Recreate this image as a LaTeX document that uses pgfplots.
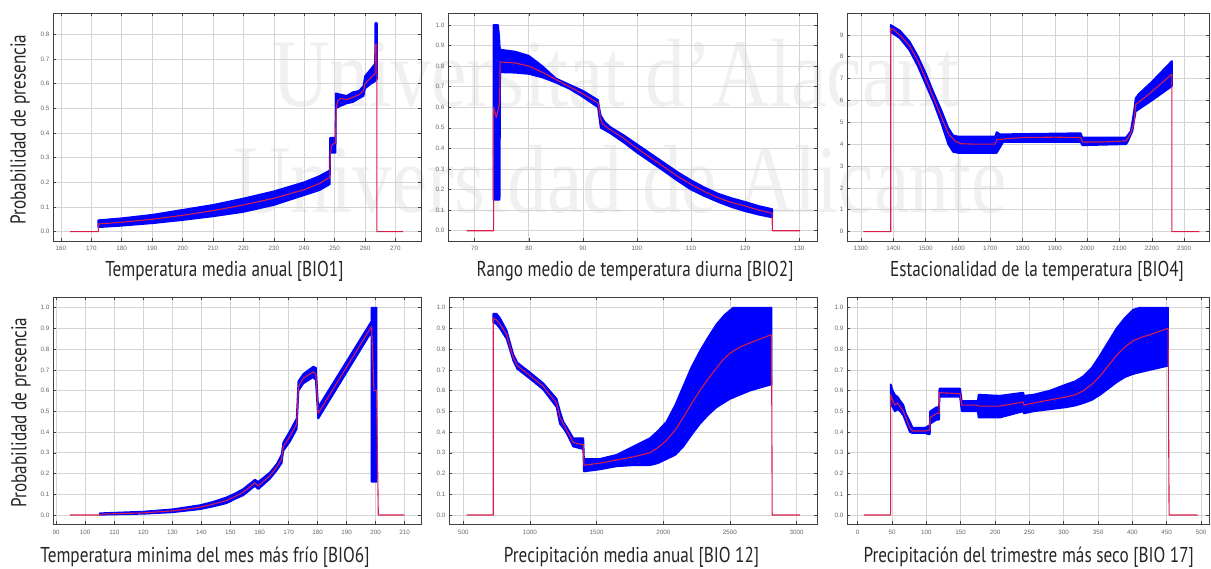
\documentclass[border=0pt]{standalone}
\usepackage{fontspec}
\usepackage{pgfplots}
\pgfplotsset{compat=1.18}
\setmainfont{Liberation Sans}
\newfontfamily\labfont{PT Sans}[FakeStretch=0.8]
\newfontfamily\tickfont{Liberation Sans}
\newfontfamily\wmfont{Liberation Serif}[FakeStretch=0.82]
\definecolor{meanred}{RGB}{215,30,75}
\definecolor{bandblue}{RGB}{0,0,255}
\pgfplotsset{
  base/.style={
    scale only axis,
    grid=major,
    major grid style={draw=black!17, line width=0.6pt},
    axis line style={draw=black!75, line width=0.8pt},
    tick style={draw=black!75, line width=0.5pt},
    tick align=inside,
    major tick length=3pt,
    tick pos=both,
    ticklabel style={font=\tickfont\fontsize{6.3}{7}\selectfont, text=black!60},
    xticklabel style={yshift=-2pt},
    /pgf/number format/assume math mode=true,
    /pgf/number format/1000 sep={},
    label style={font=\labfont\fontsize{21.5}{24}\selectfont, text=black!85},
    xlabel style={anchor=center},
    ylabel style={anchor=center},
  },
  band/.style={fill=bandblue, draw=bandblue, line width=1.8pt, line join=round},
  mean/.style={draw=meanred, line width=1.1pt, line join=round},
  ytenth/.style={ytick={0,0.1,0.2,0.3,0.4,0.5,0.6,0.7,0.8,0.9,1.0},
    yticklabel style={/pgf/number format/.cd, fixed, fixed zerofill, precision=1}},
}
\begin{document}
\begin{tikzpicture}
\useasboundingbox (0pt,0pt) rectangle (1211pt,569pt);
% watermark
\node[anchor=base, font=\wmfont\fontsize{97}{97}\selectfont, text=black!6, inner sep=0] at (616pt,462pt) {Universitat d’Alacant};
\node[anchor=base, font=\wmfont\fontsize{97}{97}\selectfont, text=black!6, inner sep=0] at (620pt,356pt) {Universidad de Alicante};

% ---------- Panel 1 ----------
\begin{axis}[base, at={(53pt,328pt)}, anchor=south west, width=368pt, height=228pt,
  xmin=157.4, xmax=278.4, ymin=-0.038, ymax=0.886,
  xtick={160,170,180,190,200,210,220,230,240,250,260,270},
  ytick={0,0.1,0.2,0.3,0.4,0.5,0.6,0.7,0.8},
  yticklabel style={/pgf/number format/.cd, fixed, fixed zerofill, precision=1},
  xlabel={Temperatura media anual [BIO1]},
  xlabel style={at={(axis description cs:0.466,-0.132)}},
  ylabel={Probabilidad de presencia},
  ylabel style={at={(axis description cs:-0.089,0.489)}},
]
\addplot[band] coordinates {(172.3,0.046)(180,0.054)(190,0.068)(200,0.088)(210,0.108)(220,0.134)(230,0.163)(240,0.2)(245,0.225)(248.4,0.248)(248.5,0.38)(250.3,0.38)(250.4,0.56)(252,0.555)(254,0.55)(256,0.565)(258,0.57)(259.5,0.59)(260,0.63)(262,0.66)(263.3,0.68)(263.4,0.845)(263.9,0.845)
 (263.9,0.62)(263.3,0.61)(262,0.6)(260,0.58)(259.5,0.55)(258,0.54)(256,0.525)(254,0.52)(252,0.51)(250.4,0.5)(250.3,0.32)(248.5,0.32)(248.4,0.192)(245,0.168)(240,0.148)(230,0.108)(220,0.08)(210,0.062)(200,0.047)(190,0.034)(180,0.024)(172.3,0.018)} -- cycle;
\addplot[mean] coordinates {(163,0)(172.3,0)(172.3,0.031)(180,0.038)(190,0.05)(200,0.066)(210,0.085)(220,0.108)(230,0.135)(240,0.17)(245,0.195)(248.4,0.22)(248.5,0.3)(249,0.35)(250.3,0.36)(250.5,0.5)(251,0.53)(252,0.54)(254,0.535)(256,0.545)(258,0.555)(259.5,0.57)(260,0.6)(262,0.625)(263.3,0.64)(263.4,0.76)(263.9,0.76)(263.9,0)(272.5,0)};
\end{axis}

% ---------- Panel 2 ----------
\begin{axis}[base, ytenth, at={(448pt,328pt)}, anchor=south west, width=369pt, height=228pt,
  xmin=65.06, xmax=133.3, ymin=-0.05, ymax=1.058,
  xtick={70,80,90,100,110,120,130},
  xlabel={Rango medio de temperatura diurna [BIO2]},
  xlabel style={at={(axis description cs:0.507,-0.132)}},
]
\addplot[band] coordinates {(73.5,1.0)(74.3,1.0)(74.5,0.95)(74.6,0.9)(74.7,0.88)(77.5,0.87)(80,0.85)(82.5,0.8)(85,0.74)(87.5,0.71)(90,0.68)(92.8,0.635)(93.0,0.6)(93.3,0.56)(94,0.53)(95,0.505)(97.5,0.465)(100,0.42)(102.5,0.375)(105,0.33)(107.5,0.285)(110,0.245)(112.5,0.21)(115,0.18)(117.5,0.158)(120,0.14)(122.5,0.12)(125,0.105)
 (125,0.065)(122.5,0.078)(120,0.095)(117.5,0.115)(115,0.14)(112.5,0.168)(110,0.2)(107.5,0.243)(105,0.29)(102.5,0.335)(100,0.38)(97.5,0.43)(95,0.475)(94,0.49)(93.3,0.5)(93,0.56)(92.8,0.6)(90,0.65)(87.5,0.69)(85,0.72)(82.5,0.745)(80,0.762)(77.5,0.768)(74.7,0.77)(74.6,0.15)(73.5,0.15)} -- cycle;
\addplot[mean] coordinates {(68.5,0)(73.5,0)(73.5,0.6)(74.0,0.55)(74.6,0.62)(74.7,0.82)(77.5,0.815)(80,0.80)(82.5,0.77)(85,0.735)(87.5,0.7)(90,0.665)(92.8,0.62)(93.0,0.6)(93.2,0.55)(93.6,0.52)(94.5,0.5)(97.5,0.45)(100,0.40)(102.5,0.355)(105,0.31)(107.5,0.265)(110,0.225)(112.5,0.19)(115,0.16)(117.5,0.137)(120,0.12)(122.5,0.1)(125,0.085)(125.05,0)(130.2,0)};
\end{axis}

% ---------- Panel 3 ----------
\begin{axis}[base, at={(847pt,328pt)}, anchor=south west, width=362pt, height=228pt,
  xmin=1256.7, xmax=2377, ymin=-0.43, ymax=10.0,
  xtick={1300,1400,1500,1600,1700,1800,1900,2000,2100,2200,2300},
  ytick={0,1,2,3,4,5,6,7,8,9},
  xlabel={Estacionalidad de la temperatura [BIO4]},
  xlabel style={at={(axis description cs:0.525,-0.132)}},
]
\addplot[band] coordinates {(1392,9.45)(1420,9.2)(1450,8.7)(1475,8.05)(1500,7.25)(1525,6.35)(1550,5.5)(1570,4.75)(1585,4.4)(1600,4.35)(1715,4.35)(1720,4.55)(1730,4.45)(1980,4.5)(1985,4.3)(2120,4.3)(2135,4.6)(2145,5.5)(2150,6.1)(2160,6.3)(2200,6.85)(2262,7.8)
 (2262,6.65)(2200,6.0)(2160,5.6)(2150,5.5)(2140,4.6)(2125,4.1)(2120,4.0)(1985,3.95)(1980,4.1)(1740,4.1)(1720,3.6)(1600,3.6)(1585,3.65)(1570,4.0)(1550,4.9)(1525,5.9)(1500,6.75)(1475,7.6)(1450,8.3)(1420,8.85)(1400,9.05)(1392,9.1)} -- cycle;
\addplot[mean] coordinates {(1307,0)(1392,0)(1392,9.3)(1400,9.25)(1420,9.0)(1450,8.5)(1475,7.85)(1500,7.0)(1525,6.1)(1550,5.2)(1570,4.5)(1590,4.15)(1610,4.02)(1650,4.0)(1715,4.0)(1720,4.2)(1750,4.25)(1800,4.3)(1900,4.32)(1980,4.3)(1985,4.1)(2050,4.1)(2120,4.15)(2135,4.5)(2145,5.0)(2150,5.8)(2200,6.4)(2262,7.2)(2262,0)(2347,0)};
\end{axis}

% ---------- Panel 4 ----------
\begin{axis}[base, ytenth, at={(53pt,44.7pt)}, anchor=south west, width=368pt, height=227pt,
  xmin=88.9, xmax=215.6, ymin=-0.045, ymax=1.05,
  xtick={90,100,110,120,130,140,150,160,170,180,190,200,210},
  xlabel={Temperatura minima del mes más frío [BIO6]},
  xlabel style={at={(axis description cs:0.413,-0.145)}},
  ylabel={Probabilidad de presencia},
  ylabel style={at={(axis description cs:-0.087,0.4925)}},
]
\addplot[band] coordinates {(105,0.008)(120,0.016)(130,0.027)(139.5,0.047)(144,0.063)(148.7,0.085)(151.5,0.103)(154.4,0.125)(158.4,0.17)(159.6,0.16)(163.6,0.205)(165.9,0.245)(167.6,0.29)(168.2,0.35)(170.5,0.405)(172.8,0.465)(173.4,0.645)(175.1,0.68)(178.5,0.715)(179.4,0.71)(180.2,0.52)(198.6,0.935)(198.6,1.0)(200.3,1.0)
 (200.3,0.16)(198.6,0.16)(198.6,0.885)(180.2,0.465)(179.4,0.65)(178.5,0.665)(175.1,0.635)(173.4,0.6)(172.8,0.415)(170.5,0.355)(168.2,0.31)(167.6,0.25)(165.9,0.215)(163.6,0.175)(159.6,0.125)(158.4,0.14)(154.4,0.095)(151.5,0.077)(148.7,0.057)(144,0.041)(139.5,0.028)(130,0.013)(120,0.006)(105,0.001)} -- cycle;
\addplot[mean] coordinates {(94.7,0)(105,0)(105.5,0.004)(120,0.01)(130.3,0.02)(139.5,0.037)(144,0.052)(148.7,0.07)(151.5,0.088)(154.4,0.11)(158.4,0.155)(159.6,0.14)(163.6,0.19)(165.9,0.23)(167.6,0.27)(168.2,0.33)(170.5,0.38)(172.8,0.44)(173.4,0.62)(175.1,0.66)(178.5,0.69)(179.4,0.68)(180.2,0.49)(198.6,0.91)(199.4,0.6)(200.3,0.6)(200.9,0)(209.9,0)};
\end{axis}

% ---------- Panel 5 ----------
\begin{axis}[base, ytenth, at={(449pt,44.7pt)}, anchor=south west, width=368pt, height=227pt,
  xmin=393, xmax=3153, ymin=-0.045, ymax=1.05,
  xtick={500,1000,1500,2000,2500,3000},
  xlabel={Precipitación media anual [BIO 12]},
  xlabel style={at={(axis description cs:0.496,-0.145)}},
]
\addplot[band] coordinates {(725,0.97)(750,0.97)(775,0.95)(825,0.89)(875,0.775)(905,0.735)(1005,0.685)(1100,0.635)(1200,0.56)(1225,0.5)(1250,0.45)(1275,0.425)(1325,0.37)(1387,0.37)(1400,0.37)(1405,0.27)(1525,0.27)(1650,0.29)(1775,0.33)(1900,0.37)(1960,0.405)(2025,0.45)(2090,0.53)(2150,0.62)(2210,0.71)(2275,0.79)(2340,0.86)(2400,0.92)(2460,0.965)(2525,1.0)(2812,1.0)
 (2812,0.63)(2730,0.615)(2650,0.6)(2575,0.58)(2500,0.56)(2450,0.54)(2400,0.52)(2340,0.485)(2275,0.44)(2210,0.385)(2150,0.33)(2090,0.29)(2025,0.27)(1960,0.25)(1900,0.24)(1775,0.24)(1650,0.235)(1525,0.22)(1405,0.21)(1400,0.32)(1387,0.32)(1325,0.33)(1275,0.395)(1250,0.42)(1225,0.44)(1200,0.52)(1100,0.605)(1005,0.655)(905,0.705)(875,0.745)(825,0.85)(775,0.9)(750,0.92)(725,0.93)} -- cycle;
\addplot[mean] coordinates {(525,0)(725,0)(725,0.95)(750,0.94)(775,0.92)(825,0.87)(860,0.79)(875,0.76)(905,0.72)(1005,0.67)(1100,0.62)(1200,0.54)(1225,0.47)(1275,0.41)(1325,0.35)(1387,0.34)(1400,0.34)(1405,0.24)(1525,0.25)(1650,0.265)(1775,0.28)(1900,0.30)(1960,0.325)(2025,0.36)(2090,0.41)(2150,0.47)(2210,0.535)(2275,0.6)(2340,0.66)(2400,0.71)(2450,0.75)(2500,0.78)(2575,0.81)(2650,0.83)(2730,0.85)(2812,0.87)(2817,0)(3025,0)};
\end{axis}

% ---------- Panel 6 ----------
\begin{axis}[base, ytenth, at={(847pt,44.7pt)}, anchor=south west, width=362pt, height=227pt,
  xmin=-15.6, xmax=511.6, ymin=-0.045, ymax=1.05,
  xtick={0,50,100,150,200,250,300,350,400,450,500},
  xlabel={Precipitación del trimestre más seco [BIO 17]},
  xlabel style={at={(axis description cs:0.502,-0.145)}},
]
\addplot[band] coordinates {(48,0.63)(51,0.6)(54,0.58)(58,0.57)(62,0.55)(66.5,0.53)(70,0.49)(76,0.45)(80,0.42)(98,0.42)(103,0.43)(105,0.43)(105.5,0.5)(115,0.52)(118.5,0.52)(119,0.61)(149,0.61)(151.5,0.55)(175,0.55)(176,0.58)(207,0.575)(241,0.59)(242,0.575)(256,0.58)(280,0.6)(304,0.63)(317,0.645)(329,0.67)(341,0.71)(353,0.77)(365,0.835)(377,0.9)(389,0.95)(401,0.99)(411,1.0)(452,1.0)
 (452,0.72)(439,0.71)(426,0.7)(413,0.69)(401,0.68)(389,0.665)(377,0.64)(365,0.61)(353,0.58)(341,0.555)(329,0.54)(317,0.528)(304,0.52)(280,0.51)(256,0.5)(242,0.49)(241,0.5)(207,0.47)(176,0.47)(175,0.5)(151.5,0.5)(149,0.57)(119,0.57)(118.5,0.46)(115,0.46)(105.5,0.44)(105,0.39)(103,0.39)(98,0.395)(80,0.395)(76,0.4)(70,0.45)(66.5,0.48)(62,0.5)(58,0.51)(54,0.5)(51,0.52)(48,0.53)} -- cycle;
\addplot[mean] coordinates {(9,0)(48,0)(48,0.58)(51,0.55)(54,0.53)(58,0.54)(62,0.52)(66.5,0.5)(70,0.47)(76,0.42)(80,0.405)(98,0.405)(103,0.41)(105,0.41)(105.5,0.47)(115,0.49)(118.5,0.49)(119,0.59)(149,0.585)(151.5,0.53)(173,0.53)(176,0.525)(207,0.525)(241,0.545)(242,0.53)(256,0.54)(280,0.555)(304,0.57)(317,0.58)(329,0.6)(341,0.63)(353,0.67)(365,0.72)(377,0.77)(389,0.81)(401,0.84)(413,0.857)(426,0.87)(439,0.885)(452,0.9)(453.5,0)(495,0)};
\end{axis}
\end{tikzpicture}
\end{document}
